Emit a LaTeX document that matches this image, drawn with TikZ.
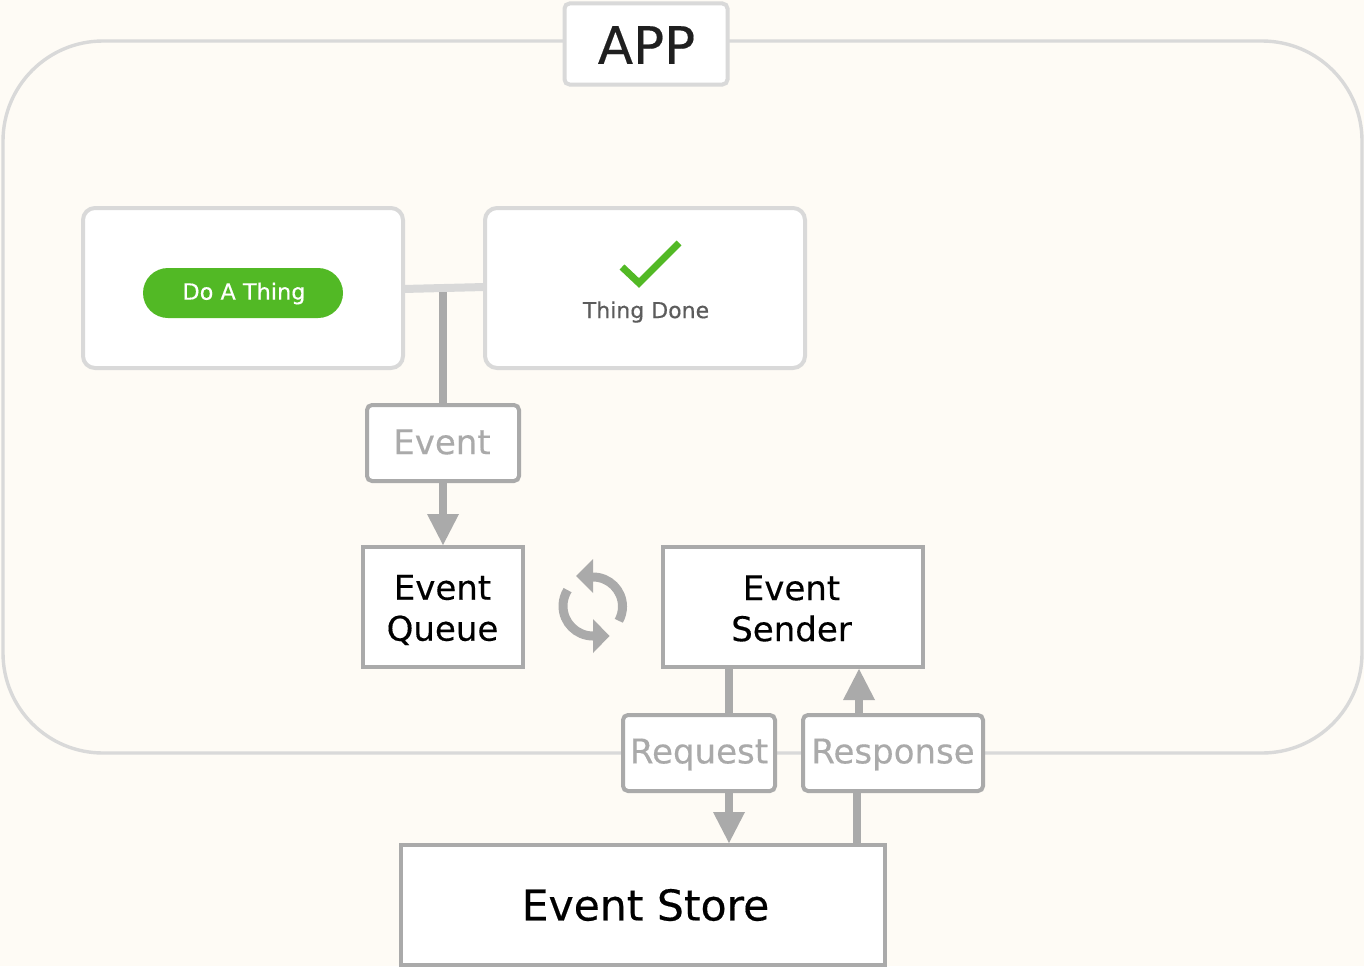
\documentclass[tikz,border=0pt]{standalone}
\usepackage{fontspec}
\setmainfont[RawFeature={embolden=0.35}]{DejaVu Sans}
\usetikzlibrary{arrows.meta}
\definecolor{bgc}{HTML}{FEFBF5}
\definecolor{lgc}{HTML}{D9D9D9}
\definecolor{dgc}{HTML}{AAAAAA}
\definecolor{grn}{HTML}{52B925}
\definecolor{txg}{HTML}{5C5C5C}
\tikzset{
  x=1pt,y=1pt,
  every node/.style={inner sep=0pt,outer sep=0pt,align=center},
  framebox/.style={draw=lgc,line width=3.4pt,fill=bgc,rounded corners=100pt,minimum width=1359pt,minimum height=712pt},
  titlebox/.style={draw=lgc,line width=4pt,fill=white,rounded corners=5pt,minimum width=163pt,minimum height=81pt},
  titletext/.style={font=\fontsize{51.5}{60}\selectfont,text=black!88},
  uibox/.style={draw=lgc,line width=4pt,fill=white,rounded corners=12pt,minimum width=320pt,minimum height=160pt},
  msgbox/.style={draw=dgc,line width=4pt,fill=white,rounded corners=5pt,minimum height=76pt},
  msgtext/.style={font=\fontsize{34}{41}\selectfont,text=dgc},
  compbox/.style={draw=dgc,line width=4pt,fill=white,minimum height=120pt},
  comptext/.style={font=\fontsize{34}{41}\selectfont,text=black},
  pill/.style={fill=grn,rounded corners=25pt,minimum width=200pt,minimum height=50pt},
  pilltext/.style={font=\fontsize{22.4}{26}\selectfont,text=white},
  capt/.style={font=\fontsize{22}{26}\selectfont,text=txg},
  lightlink/.style={draw=lgc,line width=8pt},
  wire/.style={draw=dgc,line width=8pt},
  arrowwire/.style={draw=dgc,line width=8pt,-{Triangle[width=32pt,length=31pt,line width=0pt,fill=dgc]}},
  syncarc/.style={draw=dgc,line width=9pt},
  synchead/.style={fill=dgc},
}
\begin{document}
\begin{tikzpicture}
\useasboundingbox[fill=bgc] (0,0) rectangle (1364,-966);
% outer frame
\node[framebox] (app) at (682.5,-397) {};
\node[titlebox] (title) at (646,-44) {};
\node[titletext] (titlet) at (646.5,-45) {APP};
% guide coordinates for connector columns
\coordinate (colA) at (443,0);
\coordinate (colB) at (729,0);
\coordinate (colC) at (859,0);
\coordinate (colD) at (857,0);
% boxes and connectors
\node[uibox] (doit) at (243,-288) {};
\node[uibox] (done) at (645,-288) {};
\draw[lightlink] ([yshift=-1pt]doit.east) -- ([yshift=1pt]done.west);
\node[msgbox,minimum width=152pt] (event) at (443,-443) {};
\node[compbox,minimum width=160pt] (queue) at (443,-607) {};
\node[compbox,minimum width=260pt] (sender) at (793,-607) {};
\node[msgbox,minimum width=152pt] (request) at (699,-753) {};
\node[msgbox,minimum width=180pt] (response) at (893,-753) {};
\node[compbox,minimum width=484pt] (store) at (643,-905) {};
\draw[wire] ([yshift=-4pt]doit.east -| colA) -- (event.north -| colA);
\draw[arrowwire] (event.south -| colA) -- ([yshift=2pt]queue.north -| colA);
\draw[wire] (sender.south -| colB) -- (request.north -| colB);
\draw[arrowwire] (request.south -| colB) -- ([yshift=2pt]store.north -| colB);
\draw[wire] (store.north -| colD) -- (response.south -| colD);
\draw[arrowwire] (response.north -| colC) -- ([yshift=-2pt]sender.south -| colC);
% texts
\node[pill] (btn) at (243,-293) {};
\node[pilltext] (btnt) at (244,-293.5) {Do A Thing};
\draw[draw=grn,line width=7pt,miter limit=10] (622,-267) -- (639,-283) -- (679,-243);
\node[capt] (capt1) at (646,-312) {Thing Done};
\node[msgtext] (eventt) at (442,-442) {Event};
\node[comptext] (queuet) at (442.5,-610) {Event\\Queue};
\node[comptext] (sendert) at (791.5,-608.5) {Event\\Sender};
\node[msgtext] (requestt) at (699,-754.5) {Request};
\node[msgtext] (responset) at (893,-754.5) {Response};
\node[comptext,font=\fontsize{42.5}{50}\selectfont] (storet) at (645.5,-905) {Event Store};
% sync icon
\draw[syncarc] (593,-577) arc (90:-29:29.5);
\fill[synchead] (576,-576) -- (593,-559) -- (593,-593) -- cycle;
\draw[syncarc] (593,-636) arc (270:148:30);
\fill[synchead] (609.5,-636) -- (593,-619) -- (593,-653) -- cycle;
\end{tikzpicture}
\end{document}
